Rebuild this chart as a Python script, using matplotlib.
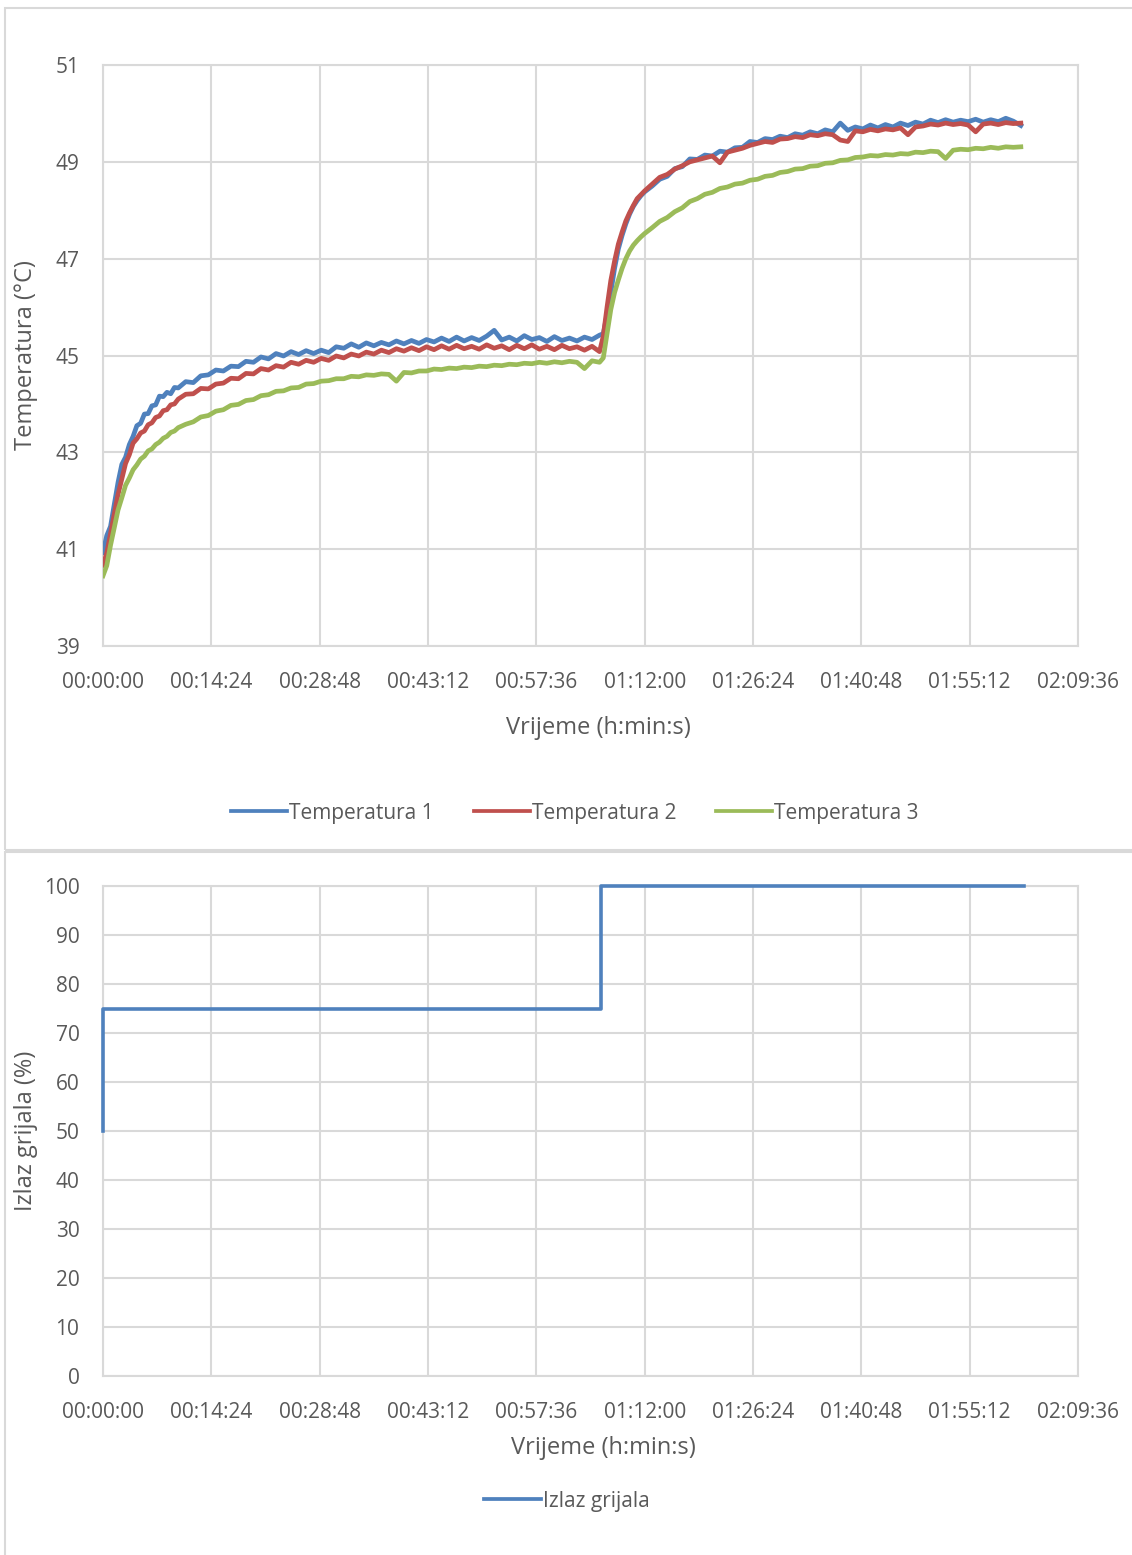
import matplotlib
matplotlib.use("Agg")
import matplotlib.pyplot as plt
from matplotlib.patches import Rectangle
from matplotlib.lines import Line2D

# ---------------- data (time in minutes) ----------------
T_A = [0.0, 0.5, 1.0, 1.5, 2.0, 2.5, 3.0, 3.5, 4.0, 4.5, 5.0, 5.5, 6.0, 6.5, 7.0,
       7.5, 8.0, 8.5, 9.0, 9.5, 10.0]
T_B = [11, 12, 13, 14, 15, 16, 17, 18, 19, 20, 21, 22, 23, 24, 25, 26, 27, 28, 29, 30,
       31, 32, 33, 34, 35, 36, 37, 38, 39, 40, 41, 42, 43, 44, 45, 46, 47, 48, 49, 50,
       51, 52, 53, 54, 55, 56, 57, 58, 59, 60, 61, 62, 63, 64, 65, 66]
T_C = [66.5, 67.0, 67.5, 68.0, 68.5, 69.0, 69.5, 70.0, 70.5, 71.0, 71.5, 72.0]
T_D = [73, 74, 75, 76, 77, 78, 79, 80, 81, 82, 83, 84, 85, 86, 87, 88, 89, 90, 91, 92,
       93, 94, 95, 96, 97, 98, 99, 100, 101, 102, 103, 104, 105, 106, 107, 108, 109, 110,
       111, 112, 113, 114, 115, 116, 117, 118, 119, 120, 121, 122]

T1_A = [40.93, 41.28, 41.47, 41.93, 42.38, 42.75, 42.90, 43.16, 43.33, 43.55, 43.60,
        43.79, 43.80, 43.96, 43.98, 44.16, 44.15, 44.24, 44.21, 44.34, 44.33]
T1_B = [44.46, 44.44, 44.58, 44.60, 44.70, 44.68, 44.78, 44.77, 44.88, 44.86, 44.97, 44.93,
        45.04, 44.99, 45.08, 45.02, 45.10, 45.04, 45.11, 45.06, 45.18, 45.15, 45.24, 45.17,
        45.26, 45.20, 45.27, 45.22, 45.30, 45.24, 45.31, 45.25, 45.33, 45.28, 45.36, 45.29,
        45.38, 45.30, 45.37, 45.31, 45.40, 45.52, 45.32, 45.38, 45.30, 45.41, 45.33, 45.37,
        45.29, 45.39, 45.31, 45.36, 45.30, 45.38, 45.33, 45.42]
T1_C = [45.45, 45.85, 46.30, 46.80, 47.20, 47.48, 47.72, 47.92, 48.08, 48.20, 48.30, 48.38]
T1_D = [48.50, 48.64, 48.70, 48.86, 48.90, 49.06, 49.05, 49.14, 49.12, 49.22, 49.20, 49.29,
        49.30, 49.42, 49.40, 49.48, 49.46, 49.53, 49.50, 49.58, 49.55, 49.62, 49.58, 49.66,
        49.62, 49.80, 49.65, 49.72, 49.68, 49.76, 49.70, 49.77, 49.72, 49.80, 49.75, 49.82,
        49.78, 49.86, 49.81, 49.87, 49.82, 49.86, 49.83, 49.88, 49.82, 49.87, 49.83, 49.90,
        49.84, 49.75]

T2_A = [40.67, 40.92, 41.32, 41.72, 42.13, 42.45, 42.77, 42.95, 43.19, 43.28, 43.40,
        43.44, 43.57, 43.61, 43.72, 43.75, 43.86, 43.88, 43.98, 44.00, 44.10]
T2_B = [44.20, 44.21, 44.32, 44.31, 44.41, 44.43, 44.53, 44.52, 44.63, 44.62, 44.73, 44.70,
        44.79, 44.76, 44.86, 44.82, 44.90, 44.86, 44.94, 44.90, 44.99, 44.95, 45.03, 44.99,
        45.07, 45.03, 45.11, 45.06, 45.14, 45.09, 45.16, 45.10, 45.18, 45.12, 45.20, 45.13,
        45.21, 45.14, 45.19, 45.13, 45.22, 45.15, 45.20, 45.12, 45.21, 45.14, 45.22, 45.13,
        45.19, 45.12, 45.21, 45.14, 45.18, 45.11, 45.19, 45.08]
T2_C = [45.40, 46.00, 46.55, 46.95, 47.30, 47.55, 47.78, 47.95, 48.10, 48.24, 48.32, 48.40]
T2_D = [48.54, 48.68, 48.74, 48.85, 48.92, 49.00, 49.04, 49.08, 49.12, 48.98, 49.20, 49.24,
        49.28, 49.34, 49.38, 49.42, 49.40, 49.47, 49.48, 49.52, 49.50, 49.56, 49.54, 49.58,
        49.56, 49.45, 49.42, 49.64, 49.62, 49.67, 49.64, 49.68, 49.66, 49.70, 49.56, 49.72,
        49.74, 49.78, 49.76, 49.80, 49.77, 49.79, 49.76, 49.62, 49.78, 49.80, 49.77, 49.81,
        49.79, 49.80]

T3_A = [40.45, 40.66, 41.08, 41.44, 41.81, 42.06, 42.32, 42.47, 42.64, 42.74, 42.86,
        42.92, 43.03, 43.07, 43.16, 43.21, 43.29, 43.33, 43.41, 43.44, 43.51]
T3_B = [43.58, 43.63, 43.73, 43.76, 43.85, 43.88, 43.97, 43.99, 44.07, 44.09, 44.17, 44.19,
        44.26, 44.27, 44.33, 44.34, 44.41, 44.42, 44.47, 44.48, 44.52, 44.52, 44.57, 44.56,
        44.60, 44.59, 44.62, 44.61, 44.47, 44.65, 44.64, 44.68, 44.68, 44.72, 44.71, 44.74,
        44.73, 44.76, 44.75, 44.78, 44.77, 44.80, 44.79, 44.82, 44.81, 44.84, 44.83, 44.86,
        44.84, 44.87, 44.85, 44.88, 44.86, 44.73, 44.89, 44.86]
T3_C = [44.95, 45.45, 45.95, 46.30, 46.56, 46.80, 47.00, 47.16, 47.28, 47.37, 47.45, 47.52]
T3_D = [47.64, 47.77, 47.85, 47.97, 48.05, 48.18, 48.24, 48.33, 48.37, 48.45, 48.48, 48.54,
        48.56, 48.62, 48.64, 48.70, 48.72, 48.78, 48.80, 48.85, 48.86, 48.91, 48.92, 48.97,
        48.98, 49.03, 49.04, 49.09, 49.10, 49.13, 49.12, 49.15, 49.14, 49.17, 49.16, 49.20,
        49.19, 49.22, 49.21, 49.07, 49.24, 49.26, 49.25, 49.28, 49.27, 49.30, 49.28, 49.31,
        49.30, 49.31]

HEATER_T = [0.0, 0.02, 66.2, 122.4]
HEATER_V = [50, 75, 100, 100]

X_TICKS = [0, 14.4, 28.8, 43.2, 57.6, 72.0, 86.4, 100.8, 115.2, 129.6]
X_LABELS = ["00:00:00", "00:14:24", "00:28:48", "00:43:12", "00:57:36",
            "01:12:00", "01:26:24", "01:40:48", "01:55:12", "02:09:36"]
Y1_TICKS = [39, 41, 43, 45, 47, 49, 51]
Y2_TICKS = [0, 10, 20, 30, 40, 50, 60, 70, 80, 90, 100]
SERIES = ["Temperatura 1", "Temperatura 2", "Temperatura 3"]
HEATER_NAME = "Izlaz grijala"

# ---------------- style ----------------
FONT = ["Open Sans", "DejaVu Sans"]
plt.rcParams["font.family"] = FONT
TXT = "#595959"
GRID = "#d9d9d9"
COLORS = ["#4f81bd", "#c0504d", "#9bbb59"]

W, H = 1132, 1555
fig = plt.figure(figsize=(W / 100, H / 100), dpi=100)
fig.patch.set_facecolor("white")

def fx(px):
    return px / W

def fy(py):
    return 1 - py / H

# chart area borders
fig.add_artist(Rectangle((fx(5), fy(850)), fx(1140) - fx(5), fy(8) - fy(850),
                         transform=fig.transFigure, fill=False, edgecolor=GRID, lw=1.5))
fig.add_artist(Rectangle((fx(5), fy(1570)), fx(1140) - fx(5), fy(852) - fy(1570),
                         transform=fig.transFigure, fill=False, edgecolor=GRID, lw=1.5))

AX_L, AX_R = 103, 1078
AX_W = AX_R - AX_L

def style_axes(ax, yticks):
    ax.set_xlim(0, 129.6)
    ax.set_xticks(X_TICKS)
    ax.set_xticklabels(X_LABELS)
    ax.set_yticks(yticks)
    ax.set_ylim(yticks[0], yticks[-1])
    ax.grid(True, color=GRID, lw=1.5)
    ax.set_axisbelow(True)
    for s in ax.spines.values():
        s.set_color(GRID)
        s.set_linewidth(1.5)
        s.set_zorder(1)
    ax.tick_params(length=0, labelsize=15, colors=TXT, pad=17)
    ax.tick_params(axis="x", pad=19)

LW = 3.4

# top chart
top_y0, top_y1 = 65, 646
ax1 = fig.add_axes([fx(AX_L), fy(top_y1), fx(AX_R) - fx(AX_L), fy(top_y0) - fy(top_y1)])
TT = T_A + T_B + T_C + T_D
ax1.plot(TT, T1_A + T1_B + T1_C + T1_D, color=COLORS[0], lw=LW, solid_joinstyle="round", zorder=3)
ax1.plot(TT, T2_A + T2_B + T2_C + T2_D, color=COLORS[1], lw=LW, solid_joinstyle="round", zorder=3)
ax1.plot(TT, T3_A + T3_B + T3_C + T3_D, color=COLORS[2], lw=LW, solid_joinstyle="round", zorder=3)
style_axes(ax1, Y1_TICKS)
ax1.set_xlabel("Vrijeme (h:min:s)", fontsize=17, color=TXT)
ax1.set_ylabel("Temperatura (°C)", fontsize=17, color=TXT)
ax1.xaxis.set_label_coords((598 - AX_L) / AX_W, -(716 - top_y1) / (top_y1 - top_y0))
ax1.yaxis.set_label_coords(-(AX_L - 38) / AX_W, 0.5)

handles1 = [Line2D([0], [0], color=c, lw=2.7) for c in COLORS]
fig.legend(handles1, SERIES, loc="center", bbox_to_anchor=(fx(575), fy(813)),
           ncol=3, frameon=False, fontsize=15, handlelength=2.7, handletextpad=0.1,
           columnspacing=1.9, labelcolor=TXT)

# bottom chart
bot_y0, bot_y1 = 886, 1376
ax2 = fig.add_axes([fx(AX_L), fy(bot_y1), fx(AX_R) - fx(AX_L), fy(bot_y0) - fy(bot_y1)])
ax2.plot(HEATER_T, HEATER_V, color=COLORS[0], lw=2.6, drawstyle="steps-post",
         clip_on=False, zorder=4)
style_axes(ax2, Y2_TICKS)
ax2.set_xlabel("Vrijeme (h:min:s)", fontsize=17, color=TXT)
ax2.set_ylabel("Izlaz grijala (%)", fontsize=17, color=TXT)
ax2.xaxis.set_label_coords((603 - AX_L) / AX_W, -(1436 - bot_y1) / (bot_y1 - bot_y0))
ax2.yaxis.set_label_coords(-(AX_L - 38) / AX_W, 0.5)

fig.legend([Line2D([0], [0], color=COLORS[0], lw=2.7)], [HEATER_NAME], loc="center",
           bbox_to_anchor=(fx(567), fy(1501)), frameon=False, fontsize=15,
           handlelength=2.7, handletextpad=0.1, labelcolor=TXT)

fig.savefig("out.png", dpi=100, facecolor="white")
